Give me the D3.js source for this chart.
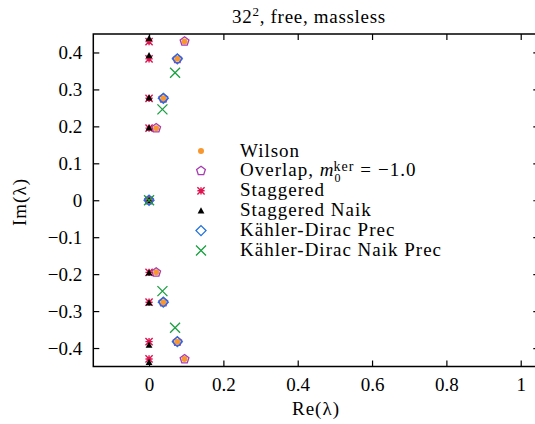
<!DOCTYPE html>
<html>
<head>
<meta charset="utf-8">
<script src="https://cdn.jsdelivr.net/npm/d3@7"></script>
<style>
  body { margin: 0; background: #fff; }
  svg { display: block; }
  text { font-family: "Liberation Serif", "Times New Roman", serif; fill: #000; }
</style>
</head>
<body>
<svg id="chart" width="535" height="424"></svg>
<script>
// Data (Re, Im)
const wilson = [[0, 0], [0.0192, 0.1951], [0.0192, -0.1951], [0.0384, 0.2759], [0.0384, -0.2759],
                [0.0761, 0.3827], [0.0761, -0.3827], [0.0953, 0.4295], [0.0953, -0.4295]];
const overlap = [[0, 0], [0.0192, 0.1951], [0.0192, -0.1951], [0.0384, 0.2760], [0.0384, -0.2760],
                 [0.0762, 0.3828], [0.0762, -0.3828], [0.0955, 0.4300], [0.0955, -0.4300]];
const staggered = [[0, 0], [0, 0.1951], [0, -0.1951], [0, 0.2759], [0, -0.2759],
                   [0, 0.3827], [0, -0.3827], [0, 0.4295], [0, -0.4295]];
const staggeredNaik = [[0, 0], [0, 0.1963], [0, -0.1963], [0, 0.2776], [0, -0.2776],
                       [0, 0.3920], [0, -0.3920], [0, 0.4384], [0, -0.4384]];
const kdPrec = [[0, 0], [0.0384, 0.2759], [0.0384, -0.2759], [0.0761, 0.3827], [0.0761, -0.3827]];
const kdNaikPrec = [[0, 0], [0.036, 0.246], [0.036, -0.246], [0.070, 0.345], [0.070, -0.345]];

const xTicks = [0, 0.2, 0.4, 0.6, 0.8, 1];
const yTicks = [-0.4, -0.3, -0.2, -0.1, 0, 0.1, 0.2, 0.3, 0.4];

const series = [
  {name: 'Wilson', data: wilson, type: 'circle', color: '#f8972f'},
  {name: 'Overlap', data: overlap, type: 'pentagon', color: '#a73cb0'},
  {name: 'Staggered', data: staggered, type: 'star', color: '#dc1450'},
  {name: 'Staggered Naik', data: staggeredNaik, type: 'triangle', color: '#000000'},
  {name: 'Kähler-Dirac Prec', data: kdPrec, type: 'diamond', color: '#1f6fe0'},
  {name: 'Kähler-Dirac Naik Prec', data: kdNaikPrec, type: 'cross', color: '#18a040'}
];

const svg = d3.select('#chart');
const plotLeft = 93.3, plotRight = 539.3, plotTop = 34, plotBottom = 366.5;

const x = d3.scaleLinear().domain([-0.15, 1.05]).range([plotLeft, plotRight]);
const y = d3.scaleLinear().domain([-0.45, 0.45]).range([plotBottom, plotTop]);

const fmt = d => d === 0 ? '0' : d3.format('.1f')(d).replace('-', '\u2212');
const fmtX = d => (d === 0 || d === 1) ? String(d) : d3.format('.1f')(d);

// Axes (ticks pointing inward)
svg.append('g').attr('transform', `translate(0,${plotBottom})`)
  .call(d3.axisBottom(x).tickValues(xTicks).tickSize(-6).tickPadding(11).tickFormat(fmtX))
  .call(g => g.select('.domain').remove());
svg.append('g').attr('transform', `translate(0,${plotTop})`)
  .call(d3.axisTop(x).tickValues(xTicks).tickSize(-6).tickFormat(''))
  .call(g => g.select('.domain').remove());
svg.append('g').attr('transform', `translate(${plotLeft},0)`)
  .call(d3.axisLeft(y).tickValues(yTicks).tickSize(-6).tickPadding(11).tickFormat(fmt))
  .call(g => g.select('.domain').remove());
svg.append('g').attr('transform', `translate(${plotRight},0)`)
  .call(d3.axisRight(y).tickValues(yTicks).tickSize(-6).tickFormat(''))
  .call(g => g.select('.domain').remove());

svg.selectAll('.tick line').attr('stroke', '#000').attr('stroke-width', 1.2);
svg.selectAll('.tick text').attr('font-size', 19).style('font-family', '"Liberation Serif", serif');

svg.append('rect')
  .attr('x', plotLeft).attr('y', plotTop)
  .attr('width', plotRight - plotLeft).attr('height', plotBottom - plotTop)
  .attr('fill', 'none').attr('stroke', '#000').attr('stroke-width', 1.5);

// Marker shapes
function markerPath(type) {
  const p = d3.path();
  if (type === 'pentagon') {
    const r = 4.6;
    for (let i = 0; i < 5; i++) {
      const a = -Math.PI / 2 + i * 2 * Math.PI / 5;
      i === 0 ? p.moveTo(r * Math.cos(a), r * Math.sin(a)) : p.lineTo(r * Math.cos(a), r * Math.sin(a));
    }
    p.closePath();
  } else if (type === 'diamond') {
    const r = 5;
    p.moveTo(0, -r); p.lineTo(r, 0); p.lineTo(0, r); p.lineTo(-r, 0); p.closePath();
  } else if (type === 'cross') {
    const r = 5;
    p.moveTo(-r, -r); p.lineTo(r, r); p.moveTo(-r, r); p.lineTo(r, -r);
  } else if (type === 'star') {
    const r = 3.6;
    p.moveTo(-r, -r); p.lineTo(r, r); p.moveTo(-r, r); p.lineTo(r, -r);
    p.moveTo(0, -r); p.lineTo(0, r); p.moveTo(-r, 0); p.lineTo(r, 0);
  } else if (type === 'triangle') {
    const r = 3.4;
    p.moveTo(0, -r); p.lineTo(r, r * 0.8); p.lineTo(-r, r * 0.8); p.closePath();
  }
  return p.toString();
}

function drawMarker(sel, s) {
  if (s.type === 'circle') {
    sel.append('circle').attr('r', 3).attr('fill', s.color);
  } else if (s.type === 'triangle') {
    sel.append('path').attr('d', markerPath(s.type)).attr('fill', s.color);
  } else {
    sel.append('path').attr('d', markerPath(s.type))
      .attr('fill', 'none').attr('stroke', s.color)
      .attr('stroke-width', s.type === 'star' ? 1.4 : 1.3);
  }
}

const plot = svg.append('g');
series.forEach(s => {
  plot.selectAll(null)
    .data(s.data.filter(d => y(d[1]) >= plotTop - 6 && y(d[1]) <= plotBottom + 6))
    .enter().append('g')
    .attr('transform', d => `translate(${x(d[0])},${y(d[1])})`)
    .each(function() { drawMarker(d3.select(this), s); });
});

// Legend
const legend = svg.append('g');
series.forEach((s, i) => {
  const ly = 151 + i * 19.9;
  drawMarker(legend.append('g').attr('transform', `translate(201,${ly})`), s);
  const t = legend.append('text').attr('x', 240).attr('y', ly + 5.5)
    .attr('font-size', 19).attr('letter-spacing', 1);
  if (s.type === 'pentagon') {
    t.append('tspan').text('Overlap, ');
    t.append('tspan').attr('font-style', 'italic').text('m');
    t.append('tspan').attr('font-size', 12).attr('dy', 6).text('0');
    t.append('tspan').attr('font-size', 14).attr('dx', -8).attr('dy', -11).text('ker');
    t.append('tspan').attr('dx', 6).attr('dy', 5).text('=');
    t.append('tspan').attr('dx', 6).text('\u22121.0');
  } else {
    t.text(s.name);
  }
});

// Titles
const title = svg.append('text').attr('x', 309).attr('y', 23)
  .attr('text-anchor', 'middle').attr('font-size', 19).attr('letter-spacing', 0.7);
title.append('tspan').text('32');
title.append('tspan').attr('font-size', 13).attr('dy', -7).text('2');
title.append('tspan').attr('dy', 7).text(', free, massless');

svg.append('text').attr('x', 316).attr('y', 415)
  .attr('text-anchor', 'middle').attr('font-size', 19).attr('letter-spacing', 1).text('Re(λ)');

svg.append('text')
  .attr('transform', 'translate(26,202) rotate(-90)')
  .attr('text-anchor', 'middle').attr('font-size', 19).attr('letter-spacing', 1).text('Im(λ)');
</script>
</body>
</html>
